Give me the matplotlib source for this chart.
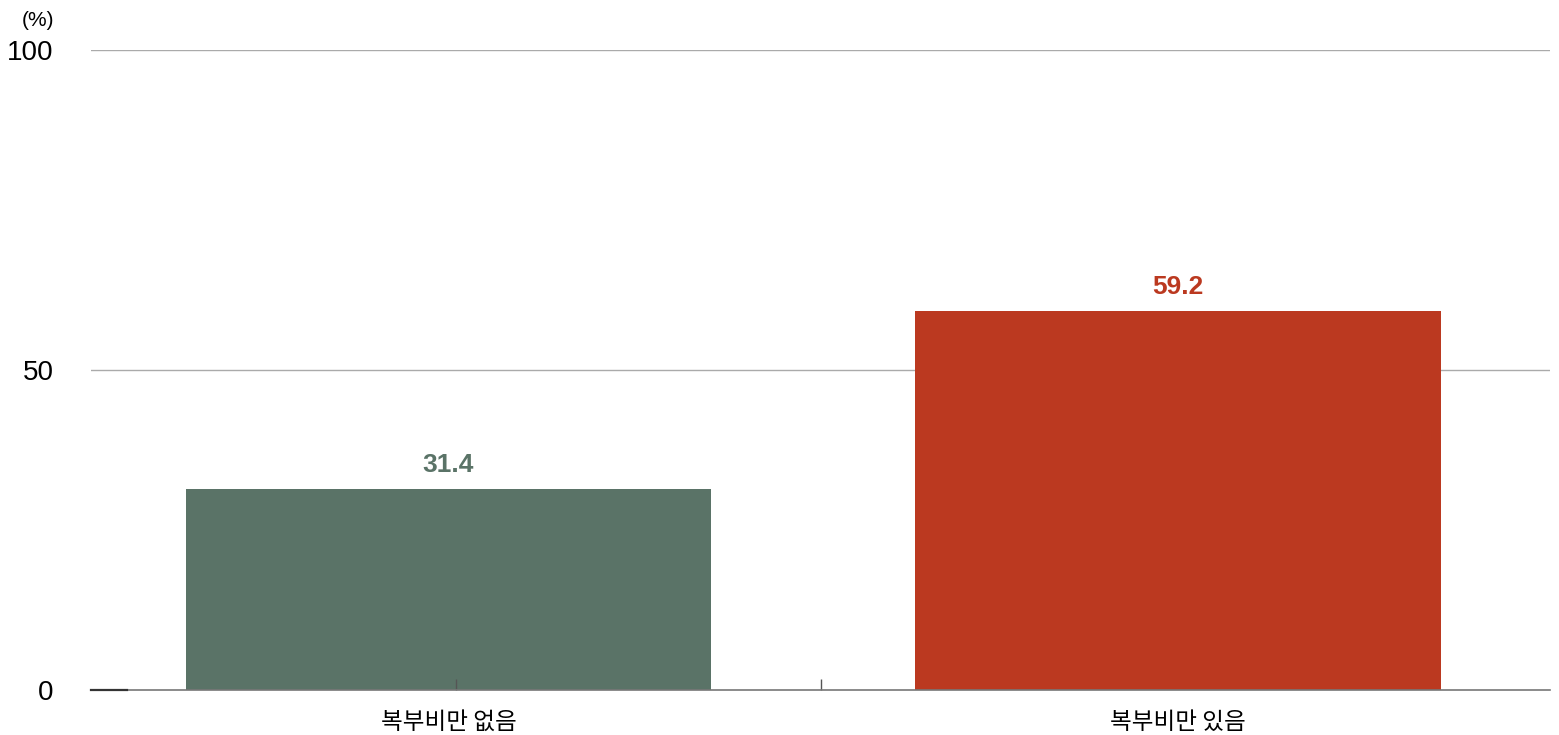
import matplotlib.pyplot as plt
from matplotlib.lines import Line2D

plt.rcParams['font.family'] = ['Liberation Sans', 'Noto Sans CJK KR', 'DejaVu Sans']

categories = ['복부비만 없음', '복부비만 있음']
values = [31.4, 59.2]
colors = ['#5a7367', '#bb3920']
yticks = [0, 50, 100]

fig = plt.figure(figsize=(15.59, 7.35), dpi=100)
ax = fig.add_axes([91 / 1559, 1 - 690 / 735, (1550 - 91) / 1559, 640 / 735])

pos = [0.49, 1.49]
ax.bar(pos, values, width=0.72, color=colors, zorder=2)
for x, v, c in zip(pos, values, colors):
    ax.text(x, v + 3.8, f'{v:.1f}', ha='center', va='center', fontsize=19,
            fontweight='bold', color=c)

ax.set_xlim(0, 2)
ax.set_ylim(0, 100)
ax.set_axisbelow(False)
ax.set_yticks(yticks)
ax.set_yticklabels([str(t) for t in yticks], fontsize=20)
ax.tick_params(axis='y', length=0, pad=27)
ax.set_xticks(pos)
ax.set_xticklabels(categories, fontsize=17, family=['Noto Sans CJK KR', 'DejaVu Sans'])
ax.tick_params(axis='x', length=0, pad=15)
ax.set_xticks([0.5, 1.0], minor=True)
ax.tick_params(axis='x', which='minor', direction='in', length=8, width=1, color='#555555')

for y in [50, 100]:
    ax.axhline(y, color='#aaaaaa', lw=1, zorder=1)
for s in ['top', 'right', 'left']:
    ax.spines[s].set_visible(False)
ax.spines['bottom'].set_color('#777777')
ax.spines['bottom'].set_linewidth(1.2)
ax.spines['bottom'].set_zorder(3)
ax.add_line(Line2D([0, 36 / 729.5], [0, 0], color='#333333', lw=1.6,
                   transform=ax.transData, clip_on=False, zorder=4))

fig.text(38 / 1559, 1 - 20 / 735, '(%)', ha='center', va='center', fontsize=15)

fig.savefig('out.png', dpi=100)
